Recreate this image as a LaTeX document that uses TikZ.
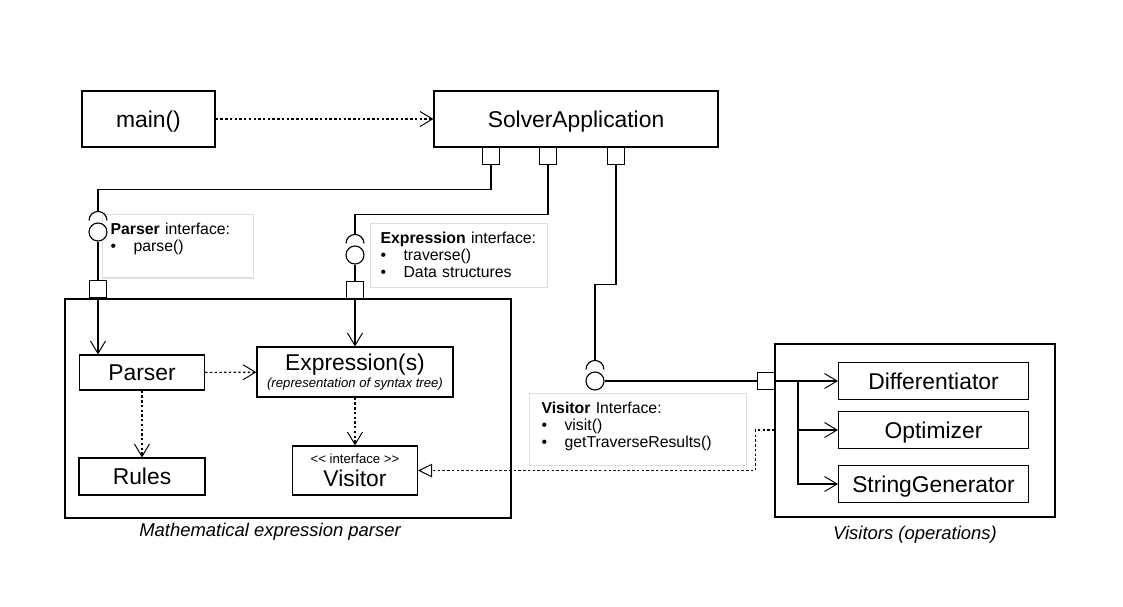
\documentclass[tikz,border=0pt]{standalone}
\usepackage{fontspec}
\setmainfont{Liberation Sans}
\usepackage{tikz}
\usetikzlibrary{positioning}
\usetikzlibrary{arrows.meta}

\begin{document}
\begin{tikzpicture}[x=0.02cm, y=-0.02cm, line width=0.65pt, >={Straight Barb[length=0.25cm, width=0.3cm, line width=0.55pt]}, block/.style ={rectangle, draw, inner sep=0pt, text depth=0pt, font=\fontsize{13}{15}\selectfont}, group/.style={rectangle, draw, inner sep=0pt}, port/.style={rectangle, draw, fill=white, inner sep=0pt, minimum size=0.34cm}, ball/.style={circle, draw, fill=white, inner sep=0pt, minimum size=0.36cm}, note/.style={rectangle, draw=black!13, anchor=north west, align=left, inner ysep=0pt, text height=0.39cm, font=\fontsize{9}{9.8}\selectfont}, dep/.style={->, dash pattern=on 1.4pt off 1.3pt}, caption/.style={font=\fontsize{10.5}{12}\selectfont\itshape}]
	\useasboundingbox (0,0) rectangle (1123,606);
	% application level
	\node[block, minimum width=2.66cm, minimum height=1.12cm] (main) at (148.5,119) {main()};
	\node[block, minimum width=5.68cm, minimum height=1.12cm] (solver) at (576,119) {SolverApplication};
	\node[port] (p1) at (491,156) {};
	\node[port] (p2) at (548,156) {};
	\node[port] (p3) at (616,156) {};
	\draw[dep] (main) -- (solver);
	% parser component
	\node[group, minimum width=8.92cm, minimum height=4.38cm] (pgroup) at (288,408.5) {};
	\node[caption] (pcaption) at (270,532) {Mathematical expression parser};
	\node[block, minimum width=2.5cm, minimum height=0.7cm] (parser) at (142,372.5) {Parser};
	\node[block, minimum width=3.92cm, minimum height=1cm, align=center, text depth=] (expr) at (355,372) {Expression(s)\\[-5pt]{\fontsize{7.5}{9}\selectfont\itshape (representation of syntax tree)}};
	\node[block, minimum width=2.52cm, minimum height=0.74cm] (rules) at (142,476.5) {Rules};
	\node[block, minimum width=2.5cm, minimum height=0.98cm, align=center, text depth=] (visitor) at (355,470.5) {{\fontsize{7.5}{9}\selectfont<\kern0pt< interface >\kern0pt>}\\[-2pt]Visitor};
	\node[port] (q1) at (98,289) {};
	\node[port] (q2) at (355,290) {};
	\draw[dep] (parser) -- (expr);
	\draw[dep] (parser) -- (rules);
	\draw[dep] (expr) -- (visitor);
	\draw[->] (q1.south) -- (q1.south |- parser.north);
	\draw[->] (q2.south) -- (q2.south |- expr.north);
	% visitors component
	\node[group, minimum width=5.6cm, minimum height=3.46cm] (vgroup) at (915,430.5) {};
	\node[caption] (vcaption) at (915,535) {Visitors (operations)};
	\node[block, minimum width=3.8cm, minimum height=0.74cm] (diff) at (933.5,381) {Differentiator};
	\node[block, minimum width=3.8cm, minimum height=0.74cm] (opt) at (933.5,430) {Optimizer};
	\node[block, minimum width=3.8cm, minimum height=0.74cm] (strgen) at (933.5,484) {StringGenerator};
	\node[port] (q3) at (766,381) {};
	\coordinate (fork) at (798,381);
	\draw[->] (q3.east) -- (diff.west);
	\draw[->] (fork) |- (opt.west);
	\draw[->] (fork) |- (strgen.west);
	\draw[dep, -{Triangle[open, length=0.28cm, width=0.27cm, line width=0.55pt]}] (vgroup.west |- opt.west) -- ++(-19,0) |- (visitor.east);
	% interface notes
	\node[note, text width=2.7cm, inner xsep=0.16cm, text depth=0.88cm] (pnote) at (102,214) {\textbf{Parser} interface:\\\makebox[0.46cm][l]{\textbullet}parse()};
	\node[note, text width=3.14cm, inner xsep=0.2cm, text depth=0.89cm] (enote) at (370,223) {\textbf{Expression} interface:\\\makebox[0.46cm][l]{\textbullet}traverse()\\\makebox[0.46cm][l]{\textbullet}Data structures};
	\node[note, text width=3.86cm, inner xsep=0.24cm, text depth=1.05cm] (vnote) at (529,393) {\textbf{Visitor} Interface:\\\makebox[0.46cm][l]{\textbullet}visit()\\\makebox[0.46cm][l]{\textbullet}getTraverseResults()};
	% sockets
	\node[ball] (s1) at (98,232) {};
	\node[ball] (s2) at (355,255) {};
	\node[ball] (s3) at (595,381) {};
	\foreach \s in {s1,s2,s3}
		\draw (\s.north) ++(-0.18cm,0.04cm) arc[start angle=180, end angle=0, radius=0.18cm];
	\draw (p1.south) -- ++(0,24) -| ([yshift=0.22cm]s1.north);
	\draw (p2.south) -- ++(0,49.5) -| ([yshift=0.22cm]s2.north);
	\draw (p3.south) -- ++(0,119.5) -| ([yshift=0.22cm]s3.north);
	\draw (s1) -- (q1);
	\draw (s2) -- (q2);
	\draw (s3) -- (q3);
\end{tikzpicture}
\end{document}
